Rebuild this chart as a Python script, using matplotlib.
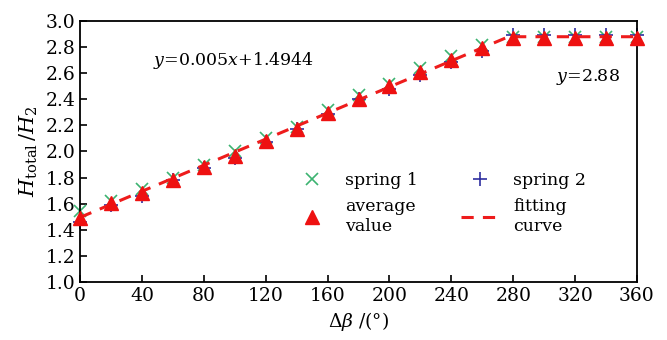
import matplotlib.pyplot as plt

plt.rcParams['font.family'] = 'DejaVu Serif'
plt.rcParams['mathtext.fontset'] = 'dejavuserif'

angle = [0, 20, 40, 60, 80, 100, 120, 140, 160, 180, 200, 220, 240, 260, 280, 300, 320, 340, 360]
spring1 = [1.54, 1.62, 1.71, 1.80, 1.90, 2.00, 2.10, 2.19, 2.32, 2.43, 2.52, 2.64, 2.73, 2.82,
           2.88, 2.88, 2.88, 2.88, 2.88]
spring2 = [1.46, 1.59, 1.66, 1.78, 1.87, 1.95, 2.07, 2.17, 2.29, 2.40, 2.48, 2.59, 2.69, 2.77,
           2.89, 2.89, 2.89, 2.89, 2.89]
average = [1.49, 1.605, 1.68, 1.78, 1.88, 1.965, 2.08, 2.175, 2.295, 2.40, 2.50, 2.61, 2.705, 2.79,
           2.87, 2.87, 2.87, 2.87, 2.87]
fit_x = [0, 277, 360]
fit_y = [1.4944, 2.88, 2.88]

fig = plt.figure(figsize=(6.67, 3.4), dpi=100)
ax = fig.add_axes([0.12, 0.171, 0.835, 0.767])

h1, = ax.plot(angle, spring1, 'x', color='#3cb371', ms=9, mew=1.2, label='spring 1', clip_on=False)
h2, = ax.plot(angle, spring2, '+', color='#2f2fa0', ms=10, mew=1.2, label='spring 2', clip_on=False)
hf, = ax.plot(fit_x, fit_y, '--', color='#ee1c1c', lw=2.2, dashes=(4, 3), label='fitting\ncurve', zorder=3)
ha, = ax.plot(angle, average, '^', color='#ee1111', ms=10, label='average\nvalue', clip_on=False, zorder=4)

ax.set_xlim(0, 360)
ax.set_ylim(1.0, 3.0)
ax.set_xticks(range(0, 361, 40))
ax.set_yticks([1.0, 1.2, 1.4, 1.6, 1.8, 2.0, 2.2, 2.4, 2.6, 2.8, 3.0])
ax.set_yticklabels(['1.0', '1.2', '1.4', '1.6', '1.8', '2.0', '2.2', '2.4', '2.6', '2.8', '3.0'])
ax.tick_params(direction='in', length=5, width=1.2, labelsize=13.5, top=False, right=False)
for s in ax.spines.values():
    s.set_linewidth(1.3)

ax.set_xlabel(r'$\Delta\beta$ /(°)', fontsize=13.5, labelpad=4)
ax.set_ylabel(r'$H_{\rm total}\,/H_2$', fontsize=15, labelpad=4)

ax.text(99, 2.70, r'$y$=0.005$x$+1.4944', fontsize=12.5, ha='center', va='center')
ax.text(328, 2.57, r'$y$=2.88', fontsize=12.5, ha='center', va='center')

ax.legend([h1, ha, h2, hf], ['spring 1', 'average\nvalue', 'spring 2', 'fitting\ncurve'],
          ncol=2, frameon=False, fontsize=12.5, loc='center', bbox_to_anchor=(0.645, 0.30),
          handlelength=2.2, columnspacing=2.5, labelspacing=0.5)

fig.savefig('out.png', dpi=100)
